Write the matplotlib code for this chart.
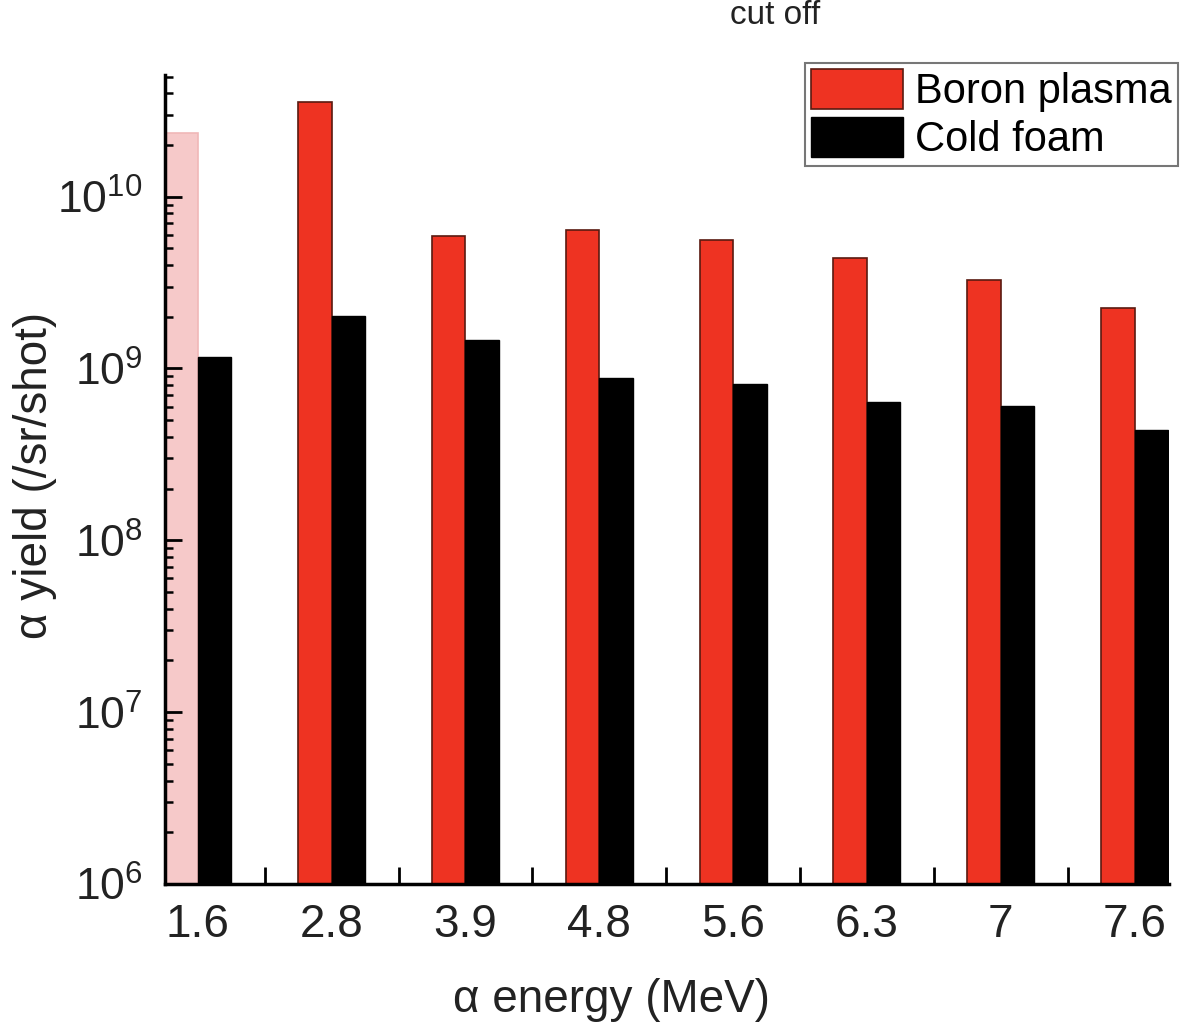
import numpy as np
import matplotlib.pyplot as plt
from matplotlib.patches import Patch
from matplotlib.ticker import LogLocator, FixedLocator, NullFormatter

plt.rcParams['font.family'] = ['Liberation Sans', 'DejaVu Sans']
plt.rcParams['mathtext.fontset'] = 'custom'
plt.rcParams['mathtext.rm'] = 'Liberation Sans'
plt.rcParams['mathtext.it'] = 'Liberation Sans:italic'

# energias (MeV) y rendimientos
energies = ['1.6', '2.8', '3.9', '4.8', '5.6', '6.3', '7', '7.6']
boron = [2.36e10, 3.57e10, 5.93e9, 6.42e9, 5.62e9, 4.42e9, 3.29e9, 2.26e9]
cold = [1.16e9, 2.03e9, 1.47e9, 8.83e8, 8.15e8, 6.40e8, 6.07e8, 4.40e8]

x = np.arange(len(energies))
w = 0.25
red = '#EE3322'
txt = '#222222'

fig = plt.figure(figsize=(11.83, 10.24), dpi=100)
ax = fig.add_axes([0.1395, 0.1367, 0.849, 0.79])

# la primera barra roja aparece desvanecida en la imagen original
red_colors = ['#F6C9C9'] + [red] * (len(energies) - 1)
red_edges = ['#F0B8B8'] + ['#5a1a10'] * (len(energies) - 1)
ax.bar(x - w / 2, np.array(boron) - 1e6, w, color=red_colors, edgecolor=red_edges,
       linewidth=1.2, bottom=1e6)
ax.bar(x + w / 2, np.array(cold) - 1e6, w, color='black', edgecolor='black',
       linewidth=1.0, bottom=1e6)

ax.set_yscale('log')
ax.set_ylim(1e6, 5.1e10)
ax.set_xlim(-0.245, 7.26)

ax.spines['top'].set_visible(False)
ax.spines['right'].set_visible(False)
for s in ['left', 'bottom']:
    ax.spines[s].set_linewidth(2.5)

ax.set_xticks(x)
ax.set_xticklabels(energies)
ax.xaxis.set_minor_locator(FixedLocator(x[:-1] + 0.5))
ax.tick_params(axis='x', which='major', length=0, pad=14, labelsize=33, labelcolor=txt)
ax.tick_params(axis='x', which='minor', direction='in', length=12, width=2)

ax.yaxis.set_major_locator(LogLocator(base=10, numticks=10))
ax.yaxis.set_minor_locator(LogLocator(base=10, subs=np.arange(2, 10), numticks=20))
ax.yaxis.set_minor_formatter(NullFormatter())
ax.tick_params(axis='y', which='major', direction='in', length=12, width=2,
               labelsize=32, pad=16, labelcolor=txt)
ax.tick_params(axis='y', which='minor', direction='in', length=6, width=1.8)

ax.set_xlabel('\u03b1 energy (MeV)', fontsize=33, color=txt, labelpad=22)
ax.xaxis.label.set_x(0.445)
ax.set_ylabel('\u03b1 yield (/sr/shot)', fontsize=33, color=txt)
ax.yaxis.set_label_coords(-0.108, 0.505)

handles = [Patch(facecolor=red, edgecolor='#5a1a10', linewidth=1.2),
           Patch(facecolor='black', edgecolor='black')]
leg = ax.legend(handles, ['Boron plasma', 'Cold foam'], loc='upper right',
                bbox_to_anchor=(0.9958, 0.9385), bbox_transform=fig.transFigure,
                fontsize=30, frameon=True, fancybox=False, handlelength=2.2, handleheight=1.1,
                handletextpad=0.3, borderpad=0.15, labelspacing=0.1, borderaxespad=0)
leg.get_frame().set_edgecolor('#555555')
leg.get_frame().set_linewidth(1.5)

fig.text(0.655, 1 - 24 / 1024, 'cut off', fontsize=24, ha='center', va='baseline', color=txt)

fig.savefig('out.png', dpi=100)
